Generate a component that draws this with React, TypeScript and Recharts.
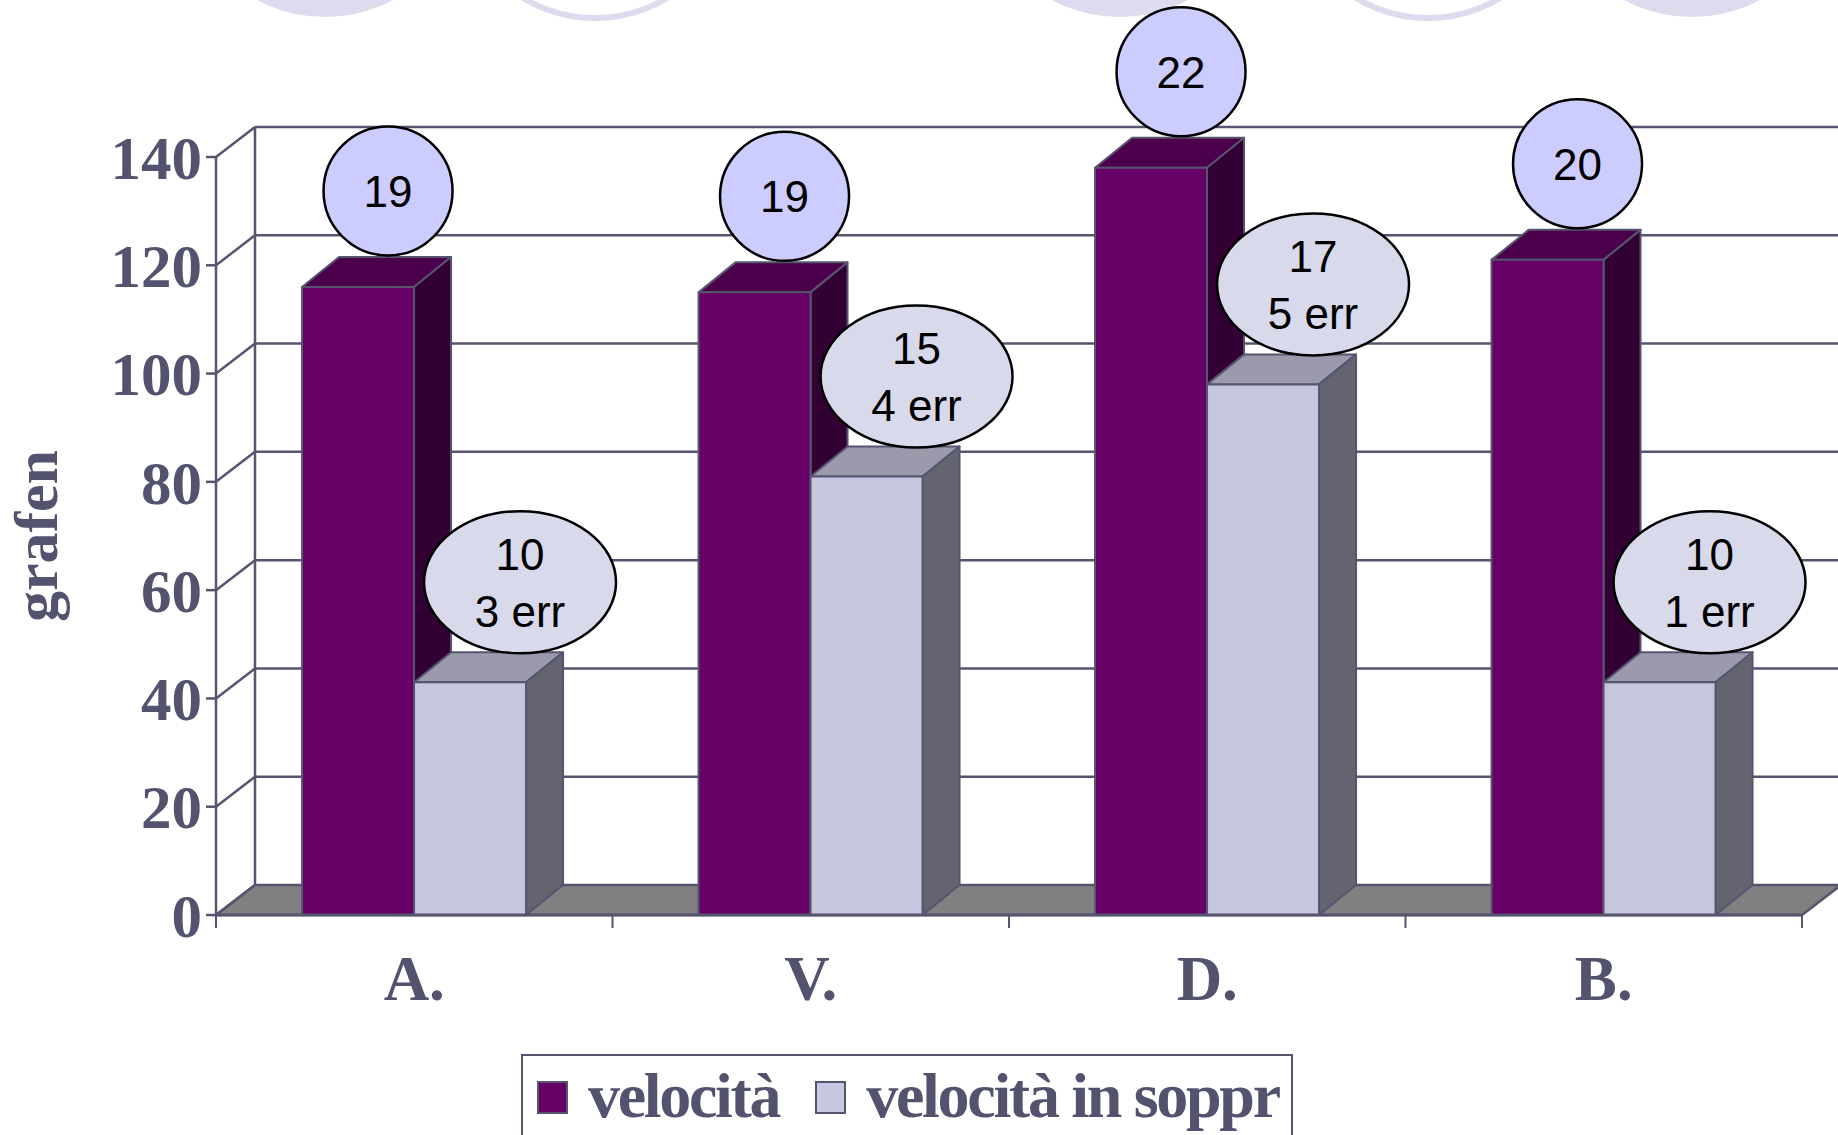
import { BarChart, Bar, XAxis, YAxis, CartesianGrid, LabelList, Legend, Label } from 'recharts';

// values
const categories = ['A.', 'V.', 'D.', 'B.'];
const velocita = [116, 115, 138, 121];
const velocitaSoppr = [43, 81, 98, 43];
const tempi = [19, 19, 22, 20];
const tempiSoppr = [10, 15, 17, 10];
const errori = [3, 4, 5, 1];
const yTicks = [0, 20, 40, 60, 80, 100, 120, 140];

const data = categories.map((name, i) => ({
  name,
  velocita: velocita[i],
  soppr: velocitaSoppr[i],
  lblV: tempi[i],
  lblS: tempiSoppr[i],
}));

const W = 1838;
const H = 1135;
const PLOT_LEFT = 216;
const PLOT_RIGHT = 1802;
const PLOT_TOP = 157;
const PLOT_BOTTOM = 915;
const DX = 39; // depth of the back wall
const DY = -30;
const BAR_DX = 37;
const BAR_DY = -30;

const EDGE = '#55556f';
const TEXT = '#535370';
const SERIF = '"Liberation Serif", "Times New Roman", serif';
const SANS = '"Liberation Sans", Arial, sans-serif';

function Box3D(props: any) {
  const { x, y, width, height, front, top, side } = props;
  if (!height || height <= 0) return null;
  const line = { stroke: EDGE, strokeWidth: 2, strokeLinejoin: 'round' as const };
  return (
    <g>
      <polygon
        points={`${x},${y} ${x + BAR_DX},${y + BAR_DY} ${x + width + BAR_DX},${y + BAR_DY} ${x + width},${y}`}
        fill={top}
        {...line}
      />
      <polygon
        points={`${x + width},${y} ${x + width + BAR_DX},${y + BAR_DY} ${x + width + BAR_DX},${y + height + BAR_DY} ${x + width},${y + height}`}
        fill={side}
        {...line}
      />
      <rect x={x} y={y} width={width} height={height} fill={front} {...line} />
    </g>
  );
}

function gridLine(p: any) {
  const { x1, y1, x2, key } = p;
  const top = p.y ?? PLOT_TOP;
  const bottom = top + (p.height ?? PLOT_BOTTOM - PLOT_TOP);
  const st = { stroke: EDGE, strokeWidth: 2.5 };
  const isBottom = Math.abs(y1 - bottom) < 1;
  const isTop = Math.abs(y1 - top) < 1;
  return (
    <g key={key}>
      {isBottom ? (
        <polygon
          points={`${x1},${y1} ${x2},${y1} ${x2 + DX},${y1 + DY} ${x1 + DX},${y1 + DY}`}
          fill="#808080"
          stroke={EDGE}
          strokeWidth={2.5}
        />
      ) : (
        <line x1={x1 + DX} y1={y1 + DY} x2={x2 + DX} y2={y1 + DY} {...st} />
      )}
      <line x1={x1} y1={y1} x2={x1 + DX} y2={y1 + DY} {...st} />
      {isTop && <line x1={x1 + DX} y1={y1 + DY} x2={x1 + DX} y2={bottom + DY} {...st} />}
    </g>
  );
}

function XTick(p: any) {
  const { x, y, payload, index } = p;
  const half = (PLOT_RIGHT - PLOT_LEFT) / categories.length / 2;
  const st = { stroke: EDGE, strokeWidth: 2 };
  return (
    <g>
      {index === 0 && <line x1={x - half} y1={y} x2={x - half} y2={y + 13} {...st} />}
      <line x1={x + half} y1={y} x2={x + half} y2={y + 13} {...st} />
      <text x={x} y={y + 85} textAnchor="middle" fill={TEXT} fontFamily={SERIF} fontWeight="bold" fontSize={63}>
        {payload.value}
      </text>
    </g>
  );
}

function GrafenLabel(p: any) {
  const vb = p.viewBox || { x: 0, y: PLOT_TOP, height: PLOT_BOTTOM - PLOT_TOP };
  const x = vb.x + 57;
  const cy = vb.y + vb.height / 2;
  return (
    <text
      x={x}
      y={cy}
      transform={`rotate(-90, ${x}, ${cy})`}
      textAnchor="middle"
      fill={TEXT}
      fontFamily={SERIF}
      fontWeight="bold"
      fontSize={62}
    >
      grafen
    </text>
  );
}

function CircleLabel(p: any) {
  const vb = p.viewBox && p.viewBox.width != null ? p.viewBox : p;
  const cx = vb.x + vb.width / 2 + 30;
  const cy = vb.y - 96;
  return (
    <g>
      <circle cx={cx} cy={cy} r={64.5} fill="#ccccff" stroke="#000" strokeWidth={2.5} />
      <text x={cx} y={cy + 16} textAnchor="middle" fontFamily={SANS} fontSize={44} fill="#000">
        {p.value}
      </text>
    </g>
  );
}

function EllipseLabel(p: any) {
  const vb = p.viewBox && p.viewBox.width != null ? p.viewBox : p;
  const cx = vb.x + vb.width / 2 + 50;
  const cy = vb.y - 100;
  return (
    <g>
      <ellipse cx={cx} cy={cy} rx={96} ry={71} fill="#d9d9ec" stroke="#000" strokeWidth={2.5} />
      <text textAnchor="middle" fontFamily={SANS} fontSize={44} fill="#000">
        <tspan x={cx} y={cy - 12}>{p.value}</tspan>
        <tspan x={cx} y={cy + 45}>{`${errori[p.index]} err`}</tspan>
      </text>
    </g>
  );
}

function LegendBox({ payload }: any) {
  return (
    <div
      style={{
        border: `2.5px solid ${EDGE}`,
        height: 120,
        boxSizing: 'border-box',
        display: 'flex',
        alignItems: 'flex-start',
        paddingLeft: 14,
        paddingTop: 8,
        background: '#fff',
      }}
    >
      {(payload || []).map((e: any) => (
        <div key={e.value} style={{ display: 'flex', alignItems: 'flex-start', marginRight: 36 }}>
          <span
            style={{
              width: 31,
              height: 33,
              marginTop: 17,
              marginRight: 20,
              background: e.color,
              border: `2px solid ${EDGE}`,
              boxSizing: 'border-box',
            }}
          />
          <span
            style={{
              fontFamily: SERIF,
              fontWeight: 'bold',
              fontSize: 64,
              lineHeight: '64px',
              letterSpacing: -2.3,
              color: TEXT,
              whiteSpace: 'nowrap',
            }}
          >
            {e.value}
          </span>
        </div>
      ))}
    </div>
  );
}

// slide decoration peeking in at the top edge
const decoFilled = [325, 1120, 1692];
const decoRings = [595, 1428];

export default function App() {
  return (
    <div style={{ position: 'absolute', left: 0, top: 0, width: W, height: H, background: '#fff', overflow: 'hidden' }}>
      <svg width={W} height={H} style={{ position: 'absolute', left: 0, top: 0 }}>
        {decoFilled.map((cx) => (
          <circle key={cx} cx={cx} cy={-128} r={145} fill="#dcdcee" />
        ))}
        {decoRings.map((cx) => (
          <circle key={cx} cx={cx} cy={-122} r={140} fill="none" stroke="#dcdcee" strokeWidth={6} />
        ))}
      </svg>
      <div style={{ position: 'absolute', left: 0, top: 0 }}>
        <BarChart
          width={W}
          height={H}
          data={data}
          margin={{ top: PLOT_TOP, right: W - PLOT_RIGHT, bottom: 120, left: 0 }}
          barCategoryGap="21.7%"
          barGap={0}
        >
          <CartesianGrid vertical={false} horizontal={gridLine} />
          <XAxis
            dataKey="name"
            height={100}
            interval={0}
            tickSize={0}
            tickMargin={0}
            tickLine={false}
            axisLine={{ stroke: EDGE, strokeWidth: 3 }}
            tick={<XTick />}
          />
          <YAxis
            width={PLOT_LEFT}
            domain={[0, 140]}
            ticks={yTicks}
            interval={0}
            tickSize={10}
            tickMargin={4}
            axisLine={{ stroke: EDGE, strokeWidth: 2.5 }}
            tickLine={{ stroke: EDGE, strokeWidth: 2.5 }}
            tick={{ fill: TEXT, fontFamily: SERIF, fontWeight: 'bold', fontSize: 61 }}
          >
            <Label content={<GrafenLabel />} />
          </YAxis>
          <Legend
            layout="horizontal"
            verticalAlign="middle"
            align="center"
            wrapperStyle={{ left: 521, top: 1054, width: 772 }}
            content={<LegendBox />}
          />
          <Bar
            dataKey="velocita"
            name="velocità"
            fill="#660066"
            isAnimationActive={false}
            shape={(p: any) => <Box3D {...p} front="#660066" top="#4c004c" side="#330033" />}
          >
            <LabelList dataKey="lblV" content={<CircleLabel />} />
          </Bar>
          <Bar
            dataKey="soppr"
            name="velocità in soppr"
            fill="#c8c8e0"
            isAnimationActive={false}
            shape={(p: any) => <Box3D {...p} front="#c6c6de" top="#9a9aac" side="#646470" />}
          >
            <LabelList dataKey="lblS" content={<EllipseLabel />} />
          </Bar>
        </BarChart>
      </div>
    </div>
  );
}
